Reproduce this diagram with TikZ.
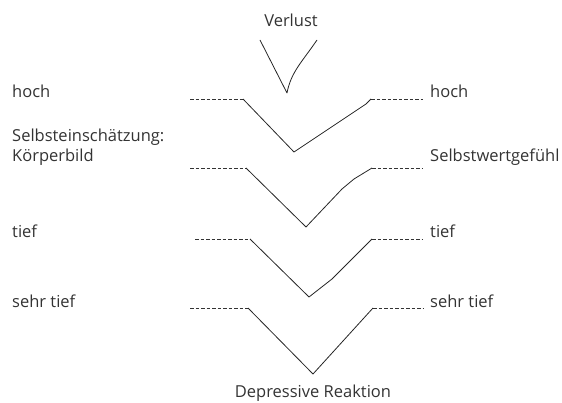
\documentclass[tikz,border=0pt]{standalone}
\usepackage{fontspec}
\setmainfont{Open Sans}
\begin{document}
\begin{tikzpicture}[x=1pt,y=-1pt,
  lbl/.style={anchor=base west,inner sep=0pt,text=black!80,font=\fontsize{16.5}{18}\selectfont},
  ctr/.style={anchor=base,inner sep=0pt,text=black!80,font=\fontsize{16.5}{18}\selectfont},
  arm/.style={draw=black!85,line width=0.8pt,line join=round},
  dsh/.style={draw=black!80,line width=0.6pt,dash pattern=on 3.5pt off 2pt}]
\useasboundingbox (0,0) rectangle (562,403);
% titles
\node[ctr] (verlust) at (291,27) {Verlust};
\node[ctr] (depr) at (313,397) {Depressive Reaktion};
% left labels
\node[lbl] (lhoch) at (12,98) {hoch};
\node[lbl] (lselbst) at (12,142) {Selbsteinschätzung:};
\node[lbl] (lkoerper) at (12,162) {Körperbild};
\node[lbl] (ltief) at (12,238) {tief};
\node[lbl] (lsehr) at (12,308) {sehr tief};
% right labels
\node[lbl] (rhoch) at (430,98) {hoch};
\node[lbl] (rselbst) at (430,162) {Selbstwertgefühl};
\node[lbl] (rtief) at (430,238) {tief};
\node[lbl] (rsehr) at (430,308) {sehr tief};
% coordinates
\coordinate (v0l) at (260,40); \coordinate (v0r) at (317,40); \coordinate (v0b) at (287,93);
\coordinate (d1a) at (190,99); \coordinate (v1l) at (243,99);
\coordinate (v1r) at (371,99); \coordinate (d1b) at (423,99); \coordinate (v1b) at (294,152);
\coordinate (d2a) at (190,168); \coordinate (v2l) at (246,168);
\coordinate (v2r) at (372,168); \coordinate (d2b) at (423,168); \coordinate (v2b) at (306,227);
\coordinate (d3a) at (195,239); \coordinate (v3l) at (250,239);
\coordinate (v3r) at (372,239); \coordinate (d3b) at (423,239); \coordinate (v3b) at (309,297);
\coordinate (d4a) at (190,308); \coordinate (v4l) at (248,308);
\coordinate (v4r) at (373,308); \coordinate (d4b) at (423,308); \coordinate (v4b) at (313,374);
% V0
\draw[arm] (v0l) -- (v0b) .. controls (291,72) and (302,62) .. (v0r);
% V1
\draw[dsh] (d1a) -- (v1l); \draw[dsh] (v1r) -- (d1b);
\draw[arm] (v1l) -- (v1b) -- (366,104) -- (v1r);
% V2
\draw[dsh] (d2a) -- (v2l); \draw[dsh] (v2r) -- (d2b);
\draw[arm] (v2l) -- (v2b) -- (342,189) -- (354,179) -- (v2r);
% V3
\draw[dsh] (d3a) -- (v3l); \draw[dsh] (v3r) -- (d3b);
\draw[arm] (v3l) -- (v3b) -- (332,279) -- (v3r);
% V4
\draw[dsh] (d4a) -- (v4l); \draw[dsh] (v4r) -- (d4b);
\draw[arm] (v4l) -- (v4b) -- (v4r);
\end{tikzpicture}
\end{document}
